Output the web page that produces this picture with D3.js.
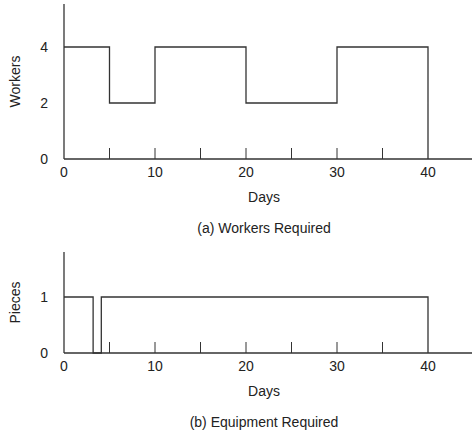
<!DOCTYPE html>
<html><head><script src="https://cdn.jsdelivr.net/npm/d3@7"></script>
<style>body{margin:0;background:#fff}text{font-family:Arial,"Liberation Sans",sans-serif;font-size:14px;fill:#222}</style>
</head><body><svg width="474" height="440"></svg>
<script>
// workers step data: [day, value]
var workerDays = [0, 5, 10, 20, 30, 40, 40];
var workerVals = [4, 2, 4, 2, 4, 0, 0];
var equipDays = [0, 3.2, 4.1, 40, 40];
var equipVals = [1, 0, 1, 0, 0];
var xTicks = [0, 10, 20, 30, 40];
var minorTicks = [5, 10, 15, 20, 25, 30, 35];

var svg = d3.select("svg");
var x = d3.scaleLinear().domain([0, 40]).range([64, 428]);

function panel(days, vals, yDomain, yRange, yTicks, yLabel, caption, top, base) {
  var y = d3.scaleLinear().domain(yDomain).range(yRange);
  var g = svg.append("g");
  var pts = days.map(function (d, i) { return [d, vals[i]]; });
  var line = d3.line().x(function (d) { return x(d[0]); }).y(function (d) { return y(d[1]); }).curve(d3.curveStepAfter);
  g.append("path").attr("d", line(pts)).attr("fill", "none").attr("stroke", "#333").attr("stroke-width", 1.3);
  // axes
  g.append("line").attr("x1", 64).attr("x2", 472).attr("y1", base).attr("y2", base).attr("stroke", "#333").attr("stroke-width", 1.3);
  g.append("line").attr("x1", 64).attr("x2", 64).attr("y1", top).attr("y2", base).attr("stroke", "#333").attr("stroke-width", 1.3);
  g.selectAll(".mt").data(minorTicks).enter().append("line")
    .attr("x1", x).attr("x2", x).attr("y1", base).attr("y2", base - 11).attr("stroke", "#333");
  g.selectAll(".xl").data(xTicks).enter().append("text")
    .attr("x", x).attr("y", base + 18).attr("text-anchor", "middle").text(function (d) { return d; });
  g.selectAll(".yl").data(yTicks).enter().append("text")
    .attr("x", 48).attr("y", function (d) { return y(d) + 5; }).attr("text-anchor", "end").text(function (d) { return d; });
  g.append("text").attr("x", 264).attr("y", base + 43).attr("text-anchor", "middle").text("Days");
  g.append("text").attr("transform", "translate(20," + ((top + base) / 2) + ") rotate(-90)").attr("text-anchor", "middle").text(yLabel);
  g.append("text").attr("x", 264).attr("y", base + 74).attr("text-anchor", "middle").text(caption);
}

panel(workerDays, workerVals, [0, 4], [159, 47], [0, 2, 4], "Workers", "(a) Workers Required", 4, 159);
panel(equipDays, equipVals, [0, 1], [353, 297], [0, 1], "Pieces", "(b) Equipment Required", 252, 353);
</script></body></html>
